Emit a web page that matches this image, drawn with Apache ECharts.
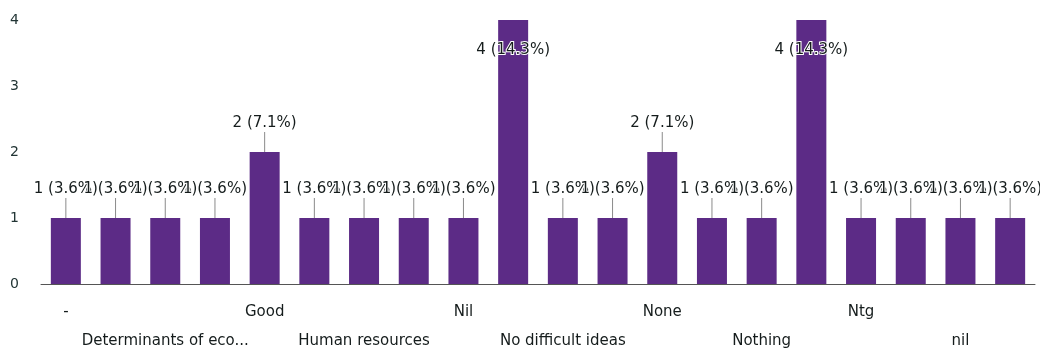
<!DOCTYPE html>
<html>
<head>
<meta charset="utf-8">
<script src="https://cdn.jsdelivr.net/npm/echarts@6/dist/echarts.min.js"></script>
<style>
html,body{margin:0;padding:0;background:#fff;}
#chart{width:1040px;height:356px;}
</style>
</head>
<body>
<div id="chart"></div>
<script>
// Categories (every other label is hidden in the original chart; hidden ones are unreadable)
const categories = [
  "-", "(response 2)", "Determinants of eco...", "(response 4)", "Good",
  "(response 6)", "Human resources", "(response 8)", "Nil", "(response 10)",
  "No difficult ideas", "(response 12)", "None", "(response 14)", "Nothing",
  "(response 16)", "Ntg", "(response 18)", "nil", "(response 20)"
];
const counts = [1, 1, 1, 1, 2, 1, 1, 1, 1, 4, 1, 1, 2, 1, 1, 4, 1, 1, 1, 1];
const yTicks = [0, 1, 2, 3, 4];

const total = counts.reduce((a, b) => a + b, 0);
const pct = v => (v / total * 100).toFixed(1);

const textColor = '#151c1c';
const richStyles = {
  t: { fontSize: 15, color: textColor, fontFamily: 'DejaVu Sans', textBorderColor: '#fff', textBorderWidth: 2, lineHeight: 17 },
  s: { width: 1, height: 20, backgroundColor: '#8a8a8a' }
};

const data = counts.map(v => {
  const item = { value: v };
  if (v >= 4) {
    item.label = {
      position: 'insideTop',
      distance: 22,
      formatter: p => '{t|' + p.value + ' (' + pct(p.value) + '%)}'
    };
  }
  return item;
});

const chart = echarts.init(document.getElementById('chart'));
chart.setOption({
  animation: false,
  backgroundColor: '#fff',
  grid: { left: 41, right: 5, top: 20, bottom: 68 },
  xAxis: {
    type: 'category',
    data: categories,
    axisLine: { lineStyle: { color: '#555', width: 1 } },
    axisTick: { show: false },
    axisLabel: {
      interval: 1,
      margin: 14,
      fontSize: 15,
      lineHeight: 29,
      color: textColor,
      fontFamily: 'DejaVu Sans',
      formatter: (val, idx) => (idx % 4 === 2 ? '\n' + val : val)
    }
  },
  yAxis: {
    type: 'value',
    min: yTicks[0],
    max: yTicks[yTicks.length - 1],
    interval: 1,
    splitLine: { show: false },
    axisLine: { show: false },
    axisTick: { show: false },
    axisLabel: {
      align: 'left',
      margin: 31,
      fontSize: 14,
      color: '#223535',
      fontFamily: 'DejaVu Sans'
    }
  },
  series: [{
    type: 'bar',
    data: data,
    barWidth: 30,
    itemStyle: { color: '#5c2b86' },
    label: {
      show: true,
      position: 'top',
      distance: 0,
      rich: richStyles,
      formatter: p => '{t|' + p.value + ' (' + pct(p.value) + '%)}\n{s|}'
    }
  }]
});
</script>
</body>
</html>
